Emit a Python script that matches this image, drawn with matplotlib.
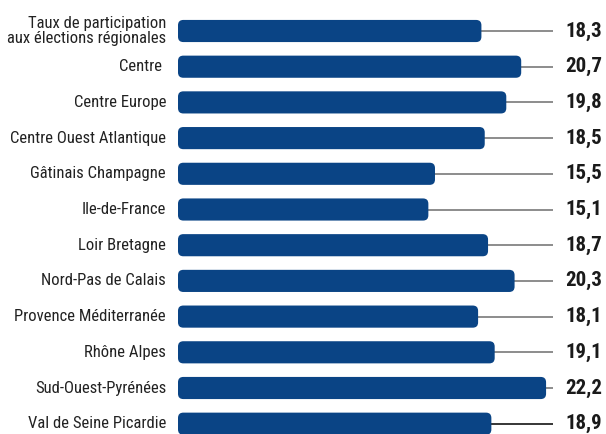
import matplotlib
matplotlib.use('Agg')
import matplotlib.pyplot as plt
from matplotlib.patches import FancyBboxPatch
from matplotlib import font_manager

regions = ['Taux de participation\naux élections régionales', 'Centre ', 'Centre Europe',
           'Centre Ouest Atlantique', 'Gâtinais Champagne', 'Ile-de-France', 'Loir Bretagne',
           'Nord-Pas de Calais', 'Provence Méditerranée', 'Rhône Alpes',
           'Sud-Ouest-Pyrénées', 'Val de Seine Picardie']
values = [18.3, 20.7, 19.8, 18.5, 15.5, 15.1, 18.7, 20.3, 18.1, 19.1, 22.2, 18.9]
value_labels = ['18,3', '20,7', '19,8', '18,5', '15,5', '15,1', '18,7', '20,3', '18,1', '19,1', '22,2', '18,9']

# condensed face close to the original, first one installed
names = set(f.name for f in font_manager.fontManager.ttflist)
fam = 'Liberation Sans'
for cand in ['Liberation Sans Narrow', 'Roboto Condensed', 'Archivo Narrow', 'PT Sans Narrow',
             'Sofia Sans Condensed', 'Asap Condensed']:
    if cand in names:
        fam = cand
        break

W, H = 606, 434
fig = plt.figure(figsize=(W / 100, H / 100), dpi=100)
ax = fig.add_axes([178 / W, 0, (553 - 178) / W, 1])
ax.axis('off')

xmax = (553 - 178) / 16.58
row_px = 35.7
top_px = 31
ax.set_xlim(0, xmax)
ax.set_ylim((H - top_px) / row_px, -top_px / row_px)

bar_col = '#0a4485'
bh = 0.62
aspect = 16.58 / row_px
for i, v in enumerate(values):
    p = FancyBboxPatch((0, i - bh / 2), v, bh, boxstyle='round,pad=0,rounding_size=0.32',
                       mutation_aspect=aspect, fc=bar_col, ec='none', zorder=2)
    ax.add_patch(p)
    lc = 'black' if i == len(values) - 1 else '#6e6e6e'
    ax.plot([v - 0.2, xmax], [i, i], color=lc, lw=1.1, zorder=1, solid_capstyle='butt')
    ax.text(-12 / 16.58, i, regions[i], ha='right', va='center', fontsize=12,
            family=fam, color='#222222', linespacing=1.08, clip_on=False)
    ax.text(xmax + 12 / 16.58, i, value_labels[i], ha='left', va='center', fontsize=15,
            family=fam, weight='bold', color='#1a1a1a', clip_on=False)

fig.savefig('out.png', dpi=100)
